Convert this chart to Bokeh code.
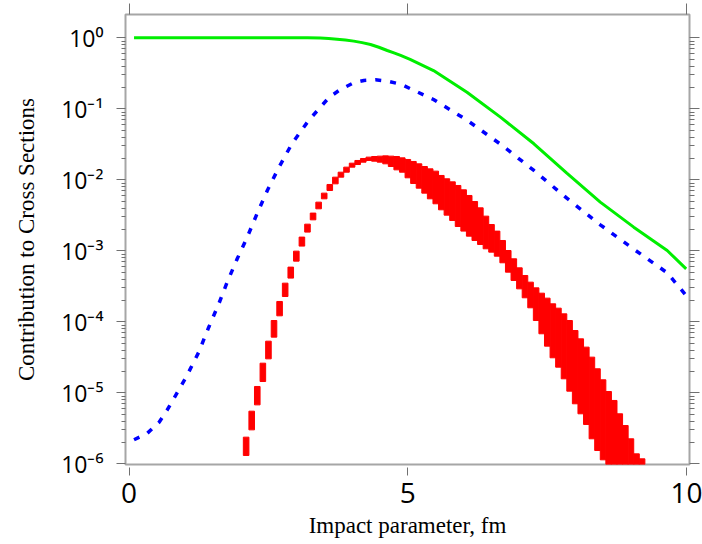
from bokeh.plotting import figure
from bokeh.models import (LogAxis, LinearAxis, FixedTicker, CustomJSTickFormatter,
                          CustomLabelingPolicy, Range1d, ColumnDataSource)
from bokeh.embed import file_html
from bokeh.resources import INLINE

# ---- data (y values given as log10) ----
green_b = [0.09, 1.0, 2.0, 3.0, 3.2, 3.43, 3.58, 3.73, 3.88, 4.03, 4.18, 4.33,
           4.48, 4.63, 4.75, 4.87, 5.04, 5.46, 6.06, 6.66, 7.26, 7.85, 8.45,
           9.05, 9.65, 9.99]
green_log10 = [0.0, 0.0, 0.0, 0.0, -0.001, -0.004, -0.010, -0.019, -0.031, -0.047,
               -0.068, -0.094, -0.133, -0.179, -0.212, -0.249, -0.305, -0.461,
               -0.766, -1.118, -1.493, -1.907, -2.315, -2.667, -2.996, -3.254]

blue_b = [0.09, 0.33, 0.54, 0.68, 0.80, 1.04, 1.25, 1.43, 1.61, 1.76, 1.94, 2.12,
          2.30, 2.48, 2.69, 2.92, 3.22, 3.58, 3.79, 4.03, 4.21, 4.42, 4.63, 4.87,
          5.46, 6.06, 6.66, 7.26, 7.85, 8.45, 9.05, 9.65, 9.99]
blue_log10 = [-5.662, -5.569, -5.414, -5.249, -5.085, -4.756, -4.428, -4.076,
              -3.747, -3.442, -3.113, -2.808, -2.470, -2.151, -1.822, -1.493,
              -1.165, -0.846, -0.728, -0.634, -0.601, -0.592, -0.610, -0.653,
              -0.869, -1.160, -1.498, -1.869, -2.259, -2.634, -2.977, -3.310,
              -3.630]

red_b = [2.1, 2.2, 2.3, 2.4, 2.5, 2.6, 2.7, 2.8, 2.9, 3.0, 3.1, 3.2, 3.3, 3.4, 3.5,
         3.6, 3.7, 3.8, 3.9, 4.0, 4.1, 4.2, 4.3, 4.4, 4.5, 4.6, 4.7, 4.8, 4.9, 5.0,
         5.1, 5.2, 5.3, 5.4, 5.5, 5.6, 5.7, 5.8, 5.9, 6.0, 6.1, 6.2, 6.3, 6.4, 6.5,
         6.6, 6.7, 6.8, 6.9, 7.0, 7.1, 7.2, 7.3, 7.4, 7.5, 7.6, 7.7, 7.8, 7.9, 8.0,
         8.1, 8.2, 8.3, 8.4, 8.5, 8.6, 8.7, 8.8, 8.9, 9.0, 9.1, 9.2]
red_hi_log10 = [-5.625, -5.259, -4.911, -4.583, -4.273, -3.982, -3.714, -3.456,
                -3.230, -3.005, -2.807, -2.625, -2.469, -2.315, -2.188, -2.066,
                -1.963, -1.893, -1.822, -1.766, -1.728, -1.700, -1.681, -1.672,
                -1.667, -1.663, -1.667, -1.672, -1.691, -1.714, -1.742, -1.775,
                -1.813, -1.846, -1.878, -1.939, -1.986, -2.029, -2.080, -2.141,
                -2.221, -2.306, -2.395, -2.512, -2.630, -2.723, -2.855, -2.996,
                -3.113, -3.240, -3.348, -3.442, -3.522, -3.597, -3.667, -3.747,
                -3.808, -3.888, -3.982, -4.123, -4.240, -4.357, -4.498, -4.662,
                -4.817, -4.982, -5.108, -5.296, -5.461, -5.648, -5.860, -5.930]
red_lo_log10 = [-5.883, -5.522, -5.170, -4.841, -4.522, -4.216, -3.916, -3.644,
                -3.385, -3.146, -2.934, -2.737, -2.564, -2.409, -2.268, -2.151,
                -2.057, -1.963, -1.893, -1.822, -1.785, -1.752, -1.728, -1.738,
                -1.752, -1.775, -1.813, -1.860, -1.893, -1.972, -2.052, -2.118,
                -2.188, -2.268, -2.338, -2.423, -2.498, -2.573, -2.658, -2.723,
                -2.794, -2.855, -2.911, -2.972, -3.019, -3.076, -3.169, -3.301,
                -3.418, -3.536, -3.662, -3.803, -3.982, -4.169, -4.343, -4.507,
                -4.639, -4.803, -4.977, -5.155, -5.296, -5.446, -5.648, -5.813,
                -5.944, -6.10, -6.25, -6.40, -6.55, -6.70, -6.85, -7.00]
red_bin_width = 0.1

x_ticks = [0, 5, 10]
y_decades = [-6, -5, -4, -3, -2, -1, 0]

# ---- figure ----
p = figure(width=702, height=544,
           x_range=Range1d(-0.063, 10.05),
           y_range=Range1d(10 ** -6.01, 10 ** 0.328),
           y_axis_type="log",
           output_backend="svg", toolbar_location=None,
           min_border_left=125, min_border_right=13,
           min_border_top=14, min_border_bottom=80)
p.background_fill_color = "white"
p.border_fill_color = "white"
p.outline_line_color = "#a6a6a6"
p.outline_line_width = 2
p.xgrid.visible = False
p.ygrid.visible = False

# red band (bars spanning lower..upper per bin)
red_src = ColumnDataSource(dict(
    x=red_b,
    top=[10 ** v for v in red_hi_log10],
    bottom=[10 ** v for v in red_lo_log10]))
p.vbar(x="x", width=red_bin_width, top="top", bottom="bottom", source=red_src,
       fill_color="#ff0000", line_color="#ff0000", line_width=1)

# blue dashed
p.line(blue_b, [10 ** v for v in blue_log10], line_color="#0000ff",
       line_width=3.5, line_dash="6 9")

# green solid
p.line(green_b, [10 ** v for v in green_log10], line_color="#00ee00",
       line_width=3)

# ---- axes ----
tick_color = "#707070"
major_y = [10.0 ** k for k in y_decades]
minor_y = [m * 10.0 ** k for k in y_decades[:-1] for m in range(2, 10)]
y_ticker = FixedTicker(ticks=major_y, minor_ticks=minor_y)

sup_js = """
const sup = {"-": "\u207b", "0": "\u2070", "1": "\u00b9", "2": "\u00b2", "3": "\u00b3",
             "4": "\u2074", "5": "\u2075", "6": "\u2076", "7": "\u2077", "8": "\u2078", "9": "\u2079"};
const e = Math.round(Math.log10(tick));
return "10" + String(e).split("").map(c => sup[c]).join("");
"""

yax = p.yaxis[0]
yax.ticker = y_ticker
yax.formatter = CustomJSTickFormatter(code=sup_js)
yax.axis_line_color = None
yax.major_tick_line_color = tick_color
yax.minor_tick_line_color = tick_color
yax.major_tick_in = 0
yax.major_tick_out = 9
yax.minor_tick_in = 0
yax.minor_tick_out = 4
yax.major_label_standoff = 13
yax.major_label_text_font = "Open Sans"
yax.major_label_text_font_size = "23px"
yax.major_label_text_color = "black"
yax.axis_label = "Contribution to Cross Sections"
yax.axis_label_text_font = "Liberation Serif"
yax.axis_label_text_font_style = "normal"
yax.axis_label_text_font_size = "23px"
yax.axis_label_text_color = "black"
yax.axis_label_standoff = 19

xax = p.xaxis[0]
xax.ticker = FixedTicker(ticks=x_ticks)
xax.axis_line_color = None
xax.major_tick_line_color = tick_color
xax.minor_tick_line_color = None
xax.major_tick_in = -3
xax.major_tick_out = 11
xax.major_label_standoff = 7
xax.major_label_text_font = "Open Sans"
xax.major_label_text_font_size = "28px"
xax.major_label_text_color = "black"
xax.axis_label = "Impact parameter, fm"
xax.axis_label_text_font = "Liberation Serif"
xax.axis_label_text_font_style = "normal"
xax.axis_label_text_font_size = "23px"
xax.axis_label_text_color = "black"
xax.axis_label_standoff = 7

rax = LogAxis(ticker=y_ticker)
rax.formatter = CustomJSTickFormatter(code="return ''")
rax.axis_line_color = None
rax.major_tick_line_color = tick_color
rax.minor_tick_line_color = tick_color
rax.major_tick_in = 0
rax.major_tick_out = 10
rax.minor_tick_in = 0
rax.minor_tick_out = 5
rax.major_label_standoff = 0
rax.major_label_text_font_size = "2px"
rax.major_label_policy = CustomLabelingPolicy(code="return []")
p.add_layout(rax, "right")

tax = LinearAxis(ticker=FixedTicker(ticks=x_ticks))
tax.formatter = CustomJSTickFormatter(code="return ''")
tax.axis_line_color = None
tax.major_tick_line_color = tick_color
tax.minor_tick_line_color = None
tax.major_tick_in = 0
tax.major_tick_out = 11
tax.major_label_standoff = 0
tax.major_label_text_font_size = "2px"
tax.major_label_policy = CustomLabelingPolicy(code="return []")
p.add_layout(tax, "above")

open("out.html", "w").write(file_html(p, INLINE))
